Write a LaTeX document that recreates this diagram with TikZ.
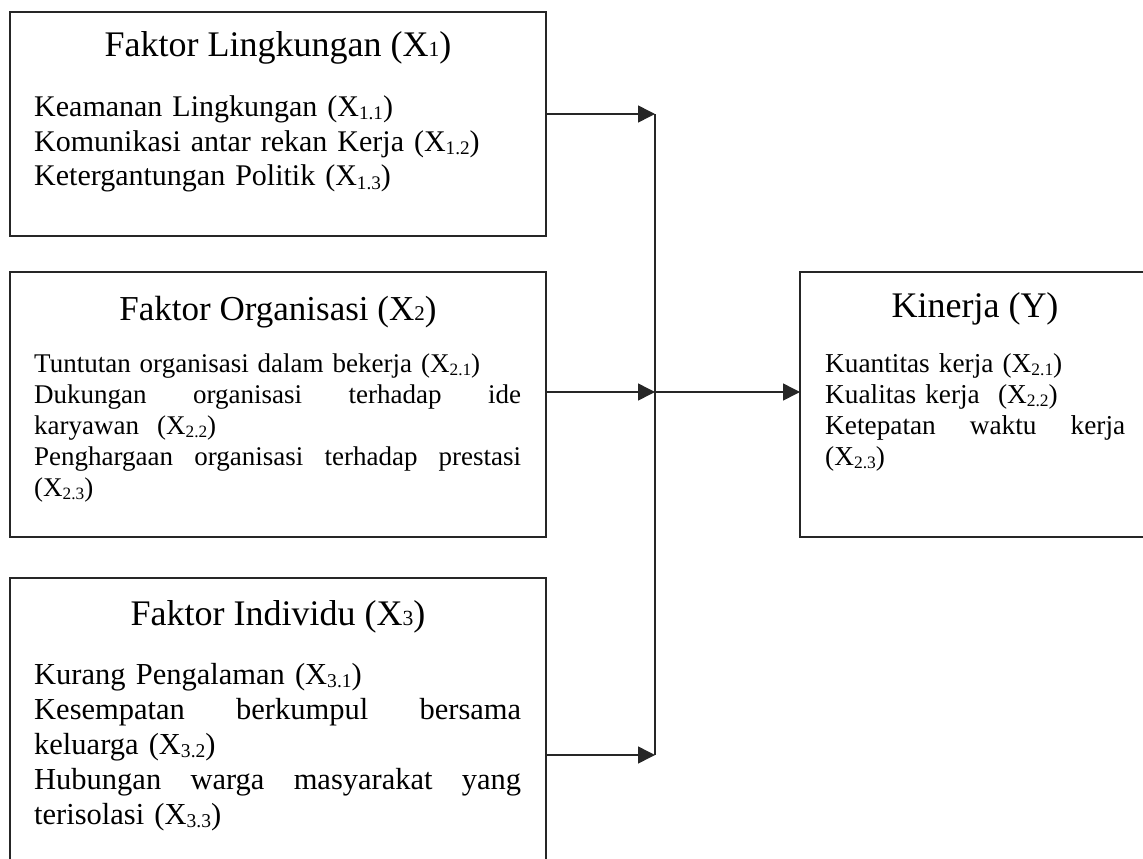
\documentclass[tikz,border=0pt]{standalone}
\usepackage{fontspec}
\usepackage{graphicx}
\setmainfont{Liberation Serif}
\usetikzlibrary{arrows.meta}

\tikzset{
  kotak/.style={draw=black!85, line width=1.5pt, inner sep=0pt, outer sep=0pt,
    anchor=north west, minimum width=536pt},
  judul/.style={font=\fontsize{36}{42}\selectfont, anchor=base, inner sep=0pt},
  isi/.style={text width=487pt, align=left, anchor=base west, inner sep=0pt},
  panah/.style={draw=black!85, line width=1.5pt, -{Triangle[length=17pt,width=17pt]}}
}
\newcommand{\rata}[2]{\makebox[#1][l]{#2}}
\newcommand{\Xs}[1]{X\raisebox{-0.12em}{\scalebox{0.64}{#1}}}
\newcommand{\Xt}[1]{X\scalebox{0.6}{#1}}

\begin{document}
\begin{tikzpicture}[x=1pt, y=-1pt]
\useasboundingbox (0,0) rectangle (1143,859);
\clip (0,0) rectangle (1143,859);

% Draw the boxes of the factors and of the result
\node[kotak, minimum height=224pt] (lingkungan) at (10,12) {};
\node[kotak, minimum height=265pt] (organisasi) at (10,272) {};
\node[kotak, minimum height=400pt] (individu) at (10,578) {};
\node[kotak, minimum width=350pt, minimum height=265pt] (kinerja) at (800,272) {};

% Titles
\node[judul] (judulL) at ([yshift=-45pt]lingkungan.north) {Faktor Lingkungan (\Xt{1})};
\node[judul, font=\fontsize{35}{41}\selectfont] (judulO) at ([yshift=-48pt]organisasi.north) {Faktor Organisasi (\Xt{2})};
\node[judul] (judulI) at ([yshift=-47pt]individu.north) {Faktor Individu (\Xt{3})};
\node[judul] (judulK) at ([yshift=-45pt]kinerja.north) {Kinerja (Y)};

% Indicators inside the boxes
\node[isi, font=\fontsize{30}{35}\selectfont] (isiL) at ([xshift=24pt,yshift=-104pt]lingkungan.north west)
  {Keamanan Lingkungan (\Xs{1.1})\\
   Komunikasi antar rekan Kerja (\Xs{1.2})\\
   Ketergantungan Politik (\Xs{1.3})};
\node[isi, font=\fontsize{27}{31}\selectfont] (isiO) at ([xshift=24pt,yshift=-100pt]organisasi.north west)
  {Tuntutan organisasi dalam bekerja (\Xs{2.1})\\
   \rata{487pt}{Dukungan\hfill organisasi\hfill terhadap\hfill ide}\\
   karyawan\ \ (\Xs{2.2})\\
   \rata{487pt}{Penghargaan\hfill organisasi\hfill terhadap\hfill prestasi}\\
   (\Xs{2.3})};
\node[isi, font=\fontsize{30.5}{35}\selectfont] (isiI) at ([xshift=24pt,yshift=-106pt]individu.north west)
  {Kurang Pengalaman (\Xs{3.1})\\
   \rata{487pt}{Kesempatan\hfill berkumpul\hfill bersama}\\
   keluarga (\Xs{3.2})\\
   \rata{487pt}{Hubungan\hfill warga\hfill masyarakat\hfill yang}\\
   terisolasi (\Xs{3.3})};
\node[isi, text width=300pt, font=\fontsize{27.3}{31}\selectfont] (isiK) at ([xshift=25pt,yshift=-100pt]kinerja.north west)
  {Kuantitas kerja (\Xs{2.1})\\
   Kualitas kerja\ \ (\Xs{2.2})\\
   \rata{300pt}{Ketepatan\hfill waktu\hfill kerja}\\
   (\Xs{2.3})};

% Points on the collecting line
\coordinate (j1) at (655,114);
\coordinate (j2) at (655,392);
\coordinate (j3) at (655,755);

% Draw the arrows
\draw[draw=black!85, line width=1.5pt] (j1) -- (j3);
\draw[panah] (lingkungan.east |- j1) -- (j1);
\draw[panah] (organisasi.east |- j2) -- (j2);
\draw[panah] (individu.east |- j3) -- (j3);
\draw[panah] (j2) -- (kinerja.west |- j2);

\end{tikzpicture}
\end{document}
